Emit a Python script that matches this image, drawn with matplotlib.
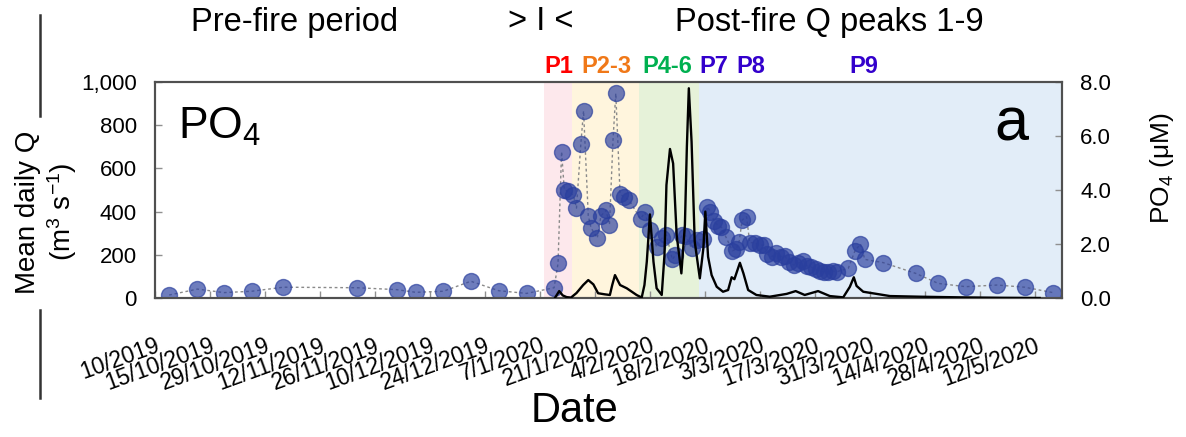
import matplotlib
matplotlib.use('Agg')
import matplotlib.pyplot as plt
from matplotlib.lines import Line2D

plt.rcParams['font.family'] = ['Liberation Sans', 'DejaVu Sans']
plt.rcParams['mathtext.fontset'] = 'custom'
plt.rcParams['mathtext.rm'] = 'Liberation Sans'
plt.rcParams['mathtext.default'] = 'regular'

# days counted from 1/10/2019
tick_days = [0, 14, 28, 42, 56, 70, 84, 98, 112, 126, 140, 154, 168, 182, 196, 210, 224]
tick_labels = ['10/2019', '15/10/2019', '29/10/2019', '12/11/2019', '26/11/2019',
               '10/12/2019', '24/12/2019', '7/1/2020', '21/1/2020', '4/2/2020',
               '18/2/2020', '3/3/2020', '17/3/2020', '31/3/2020', '14/4/2020',
               '28/4/2020', '12/5/2020']

# mean daily discharge (m3/s)
q_day = [101.8, 102.9, 103.8, 104.8, 105.9, 107.3, 109.0, 110.3, 111.6, 112.8,
         114.5, 115.8, 116.4, 117.1, 118.4, 120.1, 122.6, 123.9, 124.6, 125.2,
         126.0, 126.9, 127.7, 129.0, 129.7, 130.2, 131.1, 131.9, 132.8, 134.0,
         134.9, 135.4, 135.9, 136.6, 137.4, 138.7, 139.6, 140.1, 140.8, 141.7,
         143.0, 144.6, 145.9, 146.8, 147.5, 148.9, 149.8, 151.0, 153.1, 156.5,
         160.8, 163.1, 165.4, 168.8, 171.8, 175.2, 176.9, 177.9, 178.6, 180.3,
         183.7, 187.1, 194.7, 204.9, 215.1, 225.2]
q_val = [0, 32, 12, 4, 2, 23, 60, 83, 63, 22,
         17, 14, 60, 106, 60, 45, 14, 2, 60, 168,
         387, 168, 45, 14, 200, 523, 690, 623, 292, 114,
         338, 700, 971, 723, 261, 91, 230, 400, 191, 106,
         52, 29, 37, 96, 87, 163, 114, 37, 14, 6,
         19, 32, 14, 32, 9, 3, 52, 96, 56, 29,
         19, 9, 6, 3, 1, 0]

# PO4 (uM)
po4_day = [3.6, 10.8, 17.6, 24.6, 32.7, 51.5, 61.5, 66.4, 73.4, 80.4, 87.5, 94.6,
           101.6, 102.6, 103.5, 104.2, 105.2, 106.5, 107.3, 108.4, 109.1, 110.3,
           111.0, 112.6, 113.5, 114.8, 115.7, 116.6, 117.3, 118.4, 119.5, 120.6,
           123.6, 124.7, 126.0, 127.7, 129.0, 130.2, 131.7, 132.5, 134.1, 135.1,
           136.6, 137.9, 139.6, 140.6, 141.4, 142.3, 143.4, 144.2, 145.3, 147.0,
           147.9, 148.7, 149.5, 150.6, 151.4, 152.7, 154.0, 155.0, 155.8, 157.0,
           158.2, 159.3, 160.3, 161.4, 162.6, 163.7, 165.0, 166.0, 167.1, 168.2,
           169.2, 170.3, 171.4, 172.5, 173.5, 176.5, 178.2, 179.6, 180.7, 185.4,
           193.7, 199.4, 206.4, 214.4, 221.4, 228.6]
po4_val = [0.11, 0.33, 0.20, 0.25, 0.40, 0.38, 0.31, 0.21, 0.25, 0.62, 0.27, 0.17,
           0.38, 1.28, 5.42, 4.00, 3.95, 3.81, 3.33, 5.70, 6.93, 3.05,
           2.60, 2.22, 3.03, 3.25, 2.72, 5.85, 7.58, 3.85, 3.73, 3.64,
           2.93, 3.17, 2.53, 1.90, 2.21, 2.33, 1.43, 1.59, 2.33, 2.31,
           1.84, 2.15, 2.17, 3.38, 3.20, 2.86, 2.67, 2.62, 2.27, 1.75,
           1.80, 2.09, 2.89, 3.01, 2.05, 2.05, 1.96, 1.96, 1.63, 1.53,
           1.66, 1.53, 1.56, 1.34, 1.22, 1.29, 1.38, 1.19, 1.14, 1.06,
           1.01, 0.97, 0.97, 1.00, 0.97, 1.10, 1.75, 2.00, 1.43, 1.31,
           0.91, 0.54, 0.42, 0.48, 0.40, 0.20]

# shaded peak periods (days)
periods = [(99.0, 106.1, '#fde8ec'), (106.1, 123.2, '#fff5dd'),
           (123.2, 138.5, '#e6f2d9'), (138.5, 231.0, '#e2edf8')]
peak_labels = ['P1', 'P2-3', 'P4-6', 'P7', 'P8', 'P9']
peak_pos = [102.8, 115.0, 130.3, 142.3, 151.6, 180.5]
peak_colors = ['#ff0000', '#f07818', '#00b050', '#3300cc', '#3300cc', '#3300cc']

fig = plt.figure(figsize=(11.86, 4.37), dpi=100)
ax2 = fig.add_axes([155/1186, 1-298/437, 907/1186, 216/437])
ax = ax2.twinx()
ax.set_zorder(ax2.get_zorder() + 1)
ax.patch.set_visible(False)

for x0, x1, c in periods:
    ax2.axvspan(x0, x1, color=c, lw=0, zorder=0)

ax2.plot(po4_day, po4_val, ls=(0, (2, 2)), color='#8a8a8a', lw=1, zorder=2)
ax2.plot(po4_day, po4_val, ls='none', marker='o', ms=11.5,
         mfc='#2a3f9e', mec='#2a3f9e', alpha=0.68, zorder=3)

ax.plot(q_day, q_val, color='black', lw=1.7, solid_joinstyle='round', zorder=4)

ax2.set_xlim(0, 230.9)
ax.set_ylim(0, 1000)
ax2.set_ylim(0, 8)

# left axis shows Q, right shows PO4
ax.yaxis.tick_left()
ax2.yaxis.tick_right()
ax.set_yticks([0, 200, 400, 600, 800, 1000])
ax.set_yticklabels(['0', '200', '400', '600', '800', '1,000'])
ax2.set_yticks([0, 2, 4, 6, 8])
ax2.set_yticklabels(['0.0', '2.0', '4.0', '6.0', '8.0'])
ax2.set_xticks(tick_days)
ax2.set_xticklabels(tick_labels, rotation=20, ha='right', rotation_mode='anchor')

for a in (ax, ax2):
    a.tick_params(direction='in', length=5, width=1, color='#909090',
                  labelsize=16, pad=13)
    for s in a.spines.values():
        s.set_color('#505050')
        s.set_linewidth(1.5)
ax2.tick_params(axis='x', labelsize=16.5, pad=26)

fig.text(575/1186, 1-411/437, 'Date', fontsize=30, ha='center', va='center')
fig.text(1162/1186, 1-168/437, 'PO$_4$ (\u03bcM)', rotation=90, fontsize=19,
         ha='center', va='center')
fig.text(28/1186, 1-212/437, 'Mean daily Q', rotation=90, fontsize=20,
         ha='center', va='center')
fig.text(62/1186, 1-212/437, '(m$^3$ s$^{-1}$)', rotation=90, fontsize=20,
         ha='center', va='center')

ax.text(0.025, 0.735, 'PO$_4$', transform=ax.transAxes, fontsize=32)
ax.text(0.925, 0.73, 'a', transform=ax.transAxes, fontsize=44)

for lab, x, c in zip(peak_labels, peak_pos, peak_colors):
    ax.text(x, 1070, lab, color=c, fontsize=17, fontweight='bold',
            ha='center', va='center')

fig.text(295/1186, 1-22/437, 'Pre-fire period', fontsize=23.5, ha='center', va='center')
fig.text(541/1186, 1-22/437, '> I <', fontsize=23.5, ha='center', va='center')
fig.text(829/1186, 1-22/437, 'Post-fire Q peaks 1-9', fontsize=23.5, ha='center', va='center')

# bracket lines of the composite figure on the left
fig.add_artist(Line2D([40/1186, 40/1186], [1-15/437, 1-116/437], color='#333333', lw=1.8))
fig.add_artist(Line2D([40/1186, 40/1186], [1-310/437, 1-398/437], color='#333333', lw=1.8))

fig.savefig('out.png', dpi=100)
